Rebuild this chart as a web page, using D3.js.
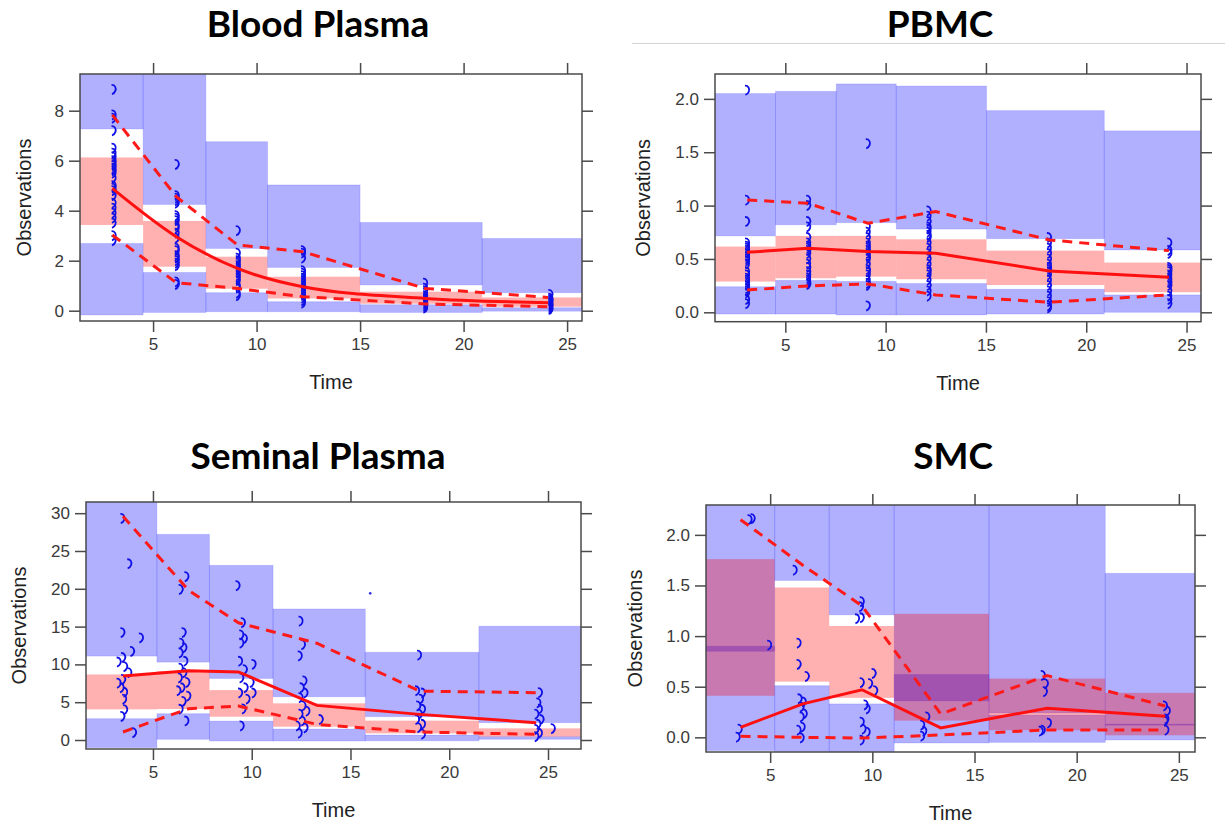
<!DOCTYPE html>
<html><head><meta charset="utf-8">
<script src="https://cdn.jsdelivr.net/npm/d3@7"></script>
<style>
body{margin:0;background:#fff}
svg text{font-family:"Liberation Sans",Arial,sans-serif}
.title{font-family:Lato,"Open Sans",sans-serif;font-weight:700}
</style>
</head><body><svg id="c" width="1225" height="827"></svg>
<script>
// ---------- shared ----------
const xTickVals = [5, 10, 15, 20, 25];

// ---------- Blood Plasma ----------
const bpBins   = [1.47, 4.52, 7.55, 10.53, 15.0, 20.9, 25.72];
const bpUpLo   = [7.27, 4.25, 2.49, 1.73, 1.03, 0.72];
const bpUpHi   = [9.9, 9.9, 6.76, 5.03, 3.53, 2.89];
const bpMedLo  = [3.43, 1.76, 0.88, 0.49, 0.28, 0.16];
const bpMedHi  = [6.13, 3.59, 2.16, 1.36, 0.76, 0.53];
const bpLowLo  = [-0.17, -0.07, -0.04, -0.04, -0.07, -0.02];
const bpLowHi  = [2.69, 1.53, 0.72, 0.36, 0.24, 0.12];
const bpT      = [3.03, 6.12, 9.08, 12.23, 18.15, 24.08];
const bpMed    = [4.89, 2.96, 1.69, 0.96, 0.49, 0.32];
const bp95     = [7.83, 4.56, 2.63, 2.36, 0.89, 0.53];
const bp05     = [3.03, 1.12, 0.89, 0.56, 0.27, 0.16];
const bpObsT   = [3.1, 6.15, 9.1, 12.25, 18.15, 24.2];
const bpObs    = [
  [8.85, 7.83, 7.7, 7.2, 6.5, 6.3, 6.15, 6.0, 5.9, 5.8, 5.7, 5.6, 5.5, 5.3, 5.0, 4.9, 4.8, 4.6, 4.3, 4.1, 3.9, 3.7, 3.5, 3.0, 2.8],
  [5.85, 4.6, 4.5, 4.4, 4.3, 3.8, 3.7, 3.6, 3.4, 3.3, 3.1, 2.9, 2.5, 2.4, 2.2, 2.1, 2.0, 1.9, 1.8, 1.15, 1.05],
  [3.2, 2.3, 2.1, 2.0, 1.9, 1.8, 1.7, 1.6, 1.5, 1.4, 1.3, 1.2, 1.0, 0.9, 0.7, 0.6],
  [2.4, 2.3, 2.1, 1.6, 1.5, 1.4, 1.3, 1.2, 1.1, 1.0, 0.9, 0.8, 0.7, 0.6, 0.5, 0.4, 0.3],
  [1.1, 0.9, 0.8, 0.7, 0.6, 0.5, 0.45, 0.4, 0.35, 0.3, 0.25, 0.2, 0.15, 0.1],
  [0.65, 0.5, 0.45, 0.4, 0.35, 0.3, 0.25, 0.2, 0.15, 0.1, 0.05]
];
const bpYTicks = [0, 2, 4, 6, 8];

// ---------- PBMC ----------
const pbBins   = [1.49, 4.51, 7.54, 10.53, 15.03, 20.9, 25.75];
const pbUpLo   = [0.716, 0.82, 0.84, 0.78, 0.69, 0.584];
const pbUpHi   = [2.05, 2.07, 2.14, 2.12, 1.89, 1.70];
const pbMedLo  = [0.288, 0.319, 0.334, 0.31, 0.256, 0.188];
const pbMedHi  = [0.616, 0.716, 0.716, 0.684, 0.578, 0.466];
const pbLowLo  = [-0.016, -0.016, -0.025, -0.025, -0.016, 0.0];
const pbLowHi  = [0.24, 0.30, 0.29, 0.27, 0.216, 0.163];
const pbT      = [3.1, 6.13, 9.12, 12.5, 18.16, 24.12];
const pbMed    = [0.563, 0.60, 0.569, 0.553, 0.388, 0.328];
const pb95     = [1.053, 1.022, 0.834, 0.944, 0.678, 0.578];
const pb05     = [0.209, 0.247, 0.266, 0.163, 0.094, 0.163];
const pbObsT   = [3.1, 6.15, 9.12, 12.15, 18.15, 24.15];
const pbObs    = [
  [2.08, 1.05, 0.85, 0.65, 0.62, 0.6, 0.58, 0.55, 0.52, 0.5, 0.48, 0.45, 0.38, 0.35, 0.32, 0.3, 0.28, 0.25, 0.22, 0.2, 0.18, 0.12, 0.08],
  [1.05, 1.0, 0.85, 0.8, 0.7, 0.65, 0.62, 0.6, 0.58, 0.55, 0.5, 0.45, 0.42, 0.38, 0.35, 0.32, 0.3, 0.28, 0.26],
  [1.58, 0.8, 0.75, 0.7, 0.65, 0.62, 0.6, 0.58, 0.55, 0.52, 0.5, 0.45, 0.4, 0.38, 0.35, 0.3, 0.27, 0.25, 0.06],
  [0.95, 0.9, 0.85, 0.8, 0.78, 0.75, 0.72, 0.7, 0.65, 0.6, 0.55, 0.5, 0.45, 0.4, 0.38, 0.35, 0.3, 0.25, 0.2, 0.15],
  [0.7, 0.65, 0.6, 0.55, 0.5, 0.45, 0.42, 0.4, 0.38, 0.35, 0.3, 0.25, 0.2, 0.15, 0.1, 0.06, 0.04],
  [0.65, 0.58, 0.55, 0.42, 0.4, 0.38, 0.35, 0.32, 0.3, 0.28, 0.25, 0.2, 0.15, 0.12, 0.08]
];
const pbYTicks = [0, 0.5, 1.0, 1.5, 2.0];

// ---------- Seminal Plasma ----------
const spBins   = [1.61, 5.2, 7.86, 11.08, 15.75, 21.5, 26.67];
const spUpLo   = [11.1, 10.3, 8.14, 5.72, 3.09, 2.29];
const spUpHi   = [32, 27.2, 23.1, 17.33, 11.6, 15.05];
const spMedLo  = [4.05, 4.1, 3.08, 1.76, 0.88, 0.44];
const spMedHi  = [8.67, 9.1, 6.6, 4.85, 2.56, 1.54];
const spLowLo  = [-1.0, 0.09, -0.13, -0.13, -0.1, 0.09];
const spLowHi  = [2.82, 3.48, 2.5, 1.45, 0.66, 0.44];
const spT      = [3.48, 6.8, 9.33, 13.3, 18.5, 24.4];
const spMed    = [8.45, 9.15, 9.0, 4.58, 3.39, 2.29];
const sp95     = [29.6, 19.8, 15.5, 12.8, 6.47, 6.25];
const sp05     = [1.06, 4.14, 4.49, 2.07, 1.06, 0.75];
const spObs    = [
  [3.46, 29.3], [3.81, 23.3], [3.46, 14.2], [4.4, 13.5], [3.95, 11.7], [3.5, 10.9], [3.27, 10.3], [3.6, 9.7],
  [3.81, 8.9], [3.5, 8.0], [3.27, 7.5], [3.42, 6.9], [3.6, 6.3], [3.55, 5.4], [3.6, 4.0], [3.46, 3.1], [4.05, 0.97],
  [6.7, 21.6], [6.41, 19.9], [6.56, 14.2], [6.45, 12.8], [6.6, 12.2], [6.41, 11.5], [6.65, 10.4], [6.41, 9.5],
  [6.6, 8.9], [6.37, 8.2], [6.75, 7.6], [6.5, 6.9], [6.3, 6.5], [6.8, 5.8], [6.56, 5.1], [6.41, 4.05], [6.7, 2.5],
  [9.29, 20.4], [9.56, 15.5], [9.48, 13.9], [9.66, 13.4], [9.48, 12.8], [9.42, 10.4], [10.1, 10.0], [9.66, 9.3],
  [9.48, 8.2], [10.0, 7.6], [9.7, 6.9], [9.42, 6.2], [10.1, 6.2], [9.8, 5.4], [9.6, 4.1], [9.5, 1.85],
  [12.48, 15.7], [12.6, 12.6], [12.44, 11.1], [12.68, 7.8], [12.54, 6.9], [12.73, 6.2], [12.48, 5.6], [12.63, 4.5],
  [12.83, 3.8], [12.48, 3.4], [12.6, 2.5], [13.5, 2.7], [12.34, 1.85], [12.73, 1.6], [12.44, 0.88],
  [18.48, 11.2], [18.38, 6.5], [18.68, 6.2], [18.58, 5.4], [18.44, 4.5], [18.68, 4.05], [18.52, 3.4], [18.38, 2.7],
  [18.68, 2.07], [18.48, 1.63], [18.68, 0.75],
  [24.6, 6.25], [24.52, 4.9], [24.6, 4.05], [24.42, 3.4], [24.68, 2.7], [24.52, 2.07], [25.25, 1.5], [24.42, 1.4],
  [24.6, 0.88], [24.42, 0.44]
];
const spStray  = [[16.0, 19.4]];
const spYTicks = [0, 5, 10, 15, 20, 25, 30];

// ---------- SMC ----------
const smBins   = [1.86, 5.22, 7.89, 11.07, 15.71, 21.4, 25.79];
const smUpLo   = [0.85, 1.55, 1.21, 0.36, 0.24, 0.12];
const smUpHi   = [2.4, 2.4, 2.4, 2.4, 2.4, 1.62];
const smMedLo  = [0.41, 0.55, 0.39, 0.165, 0.07, 0.02];
const smMedHi  = [1.76, 1.48, 1.10, 1.22, 0.58, 0.44];
const smLowLo  = [-0.13, -0.14, -0.15, -0.056, -0.05, -0.026];
const smLowHi  = [0.90, 0.51, 0.33, 0.62, 0.22, 0.13];
const smT      = [3.55, 6.6, 9.49, 13.35, 18.55, 24.33];
const smMed    = [0.099, 0.33, 0.47, 0.093, 0.288, 0.208];
const sm95     = [2.15, 1.70, 1.30, 0.23, 0.61, 0.31];
const sm05     = [0.01, 0.0, -0.007, 0.023, 0.073, 0.073];
const smObs    = [
  [4.0, 2.15], [4.15, 2.16], [4.96, 0.91], [3.52, 0.08], [3.42, 0.0],
  [6.21, 1.65], [6.4, 0.93], [6.4, 0.72], [6.8, 0.60], [6.45, 0.38], [6.65, 0.35], [6.55, 0.30], [6.7, 0.23],
  [6.55, 0.20], [6.6, 0.10], [6.4, 0.07], [6.55, -0.007],
  [9.49, 1.34], [9.45, 1.29], [9.26, 1.17], [9.49, 1.18], [10.07, 0.63], [9.49, 0.54], [9.9, 0.53], [10.15, 0.46],
  [9.68, 0.32], [9.78, 0.28], [9.49, 0.15], [9.58, 0.08], [9.78, 0.05], [9.49, -0.03],
  [12.7, 0.20], [12.45, 0.12], [12.55, 0.06], [12.45, 0.01],
  [18.35, 0.61], [18.5, 0.53], [18.45, 0.45], [18.65, 0.14], [18.35, 0.07], [18.25, 0.06],
  [24.33, 0.31], [24.47, 0.26], [24.4, 0.18], [24.36, 0.16], [24.4, 0.07]
];
const smYTicks = [0, 0.5, 1.0, 1.5, 2.0];

// ---------- panel layout ----------
function colObs(times, cols) { const out = []; cols.forEach((c, i) => c.forEach(v => out.push([times[i], v]))); return out; }

const panels = [
  { title: "Blood Plasma", tx: 318, ty: 37, l: 80, r: 582, t: 74, b: 321, xDom: [1.47, 25.72], yDom: [-0.412, 9.468],
    ylx: 24, yTicks: bpYTicks, fmt: d3.format("d"), bins: bpBins, upLo: bpUpLo, upHi: bpUpHi, medLo: bpMedLo, medHi: bpMedHi,
    lowLo: bpLowLo, lowHi: bpLowHi, T: bpT, med: bpMed, p95: bp95, p05: bp05, obs: colObs(bpObsT, bpObs), stray: [] },
  { title: "PBMC", tx: 940, ty: 37, l: 715, r: 1201, t: 74, b: 321.7, xDom: [1.495, 25.72], yDom: [-0.088, 2.233],
    ylx: 643, yTicks: pbYTicks, fmt: d3.format(".1f"), bins: pbBins, upLo: pbUpLo, upHi: pbUpHi, medLo: pbMedLo, medHi: pbMedHi,
    lowLo: pbLowLo, lowHi: pbLowHi, T: pbT, med: pbMed, p95: pb95, p05: pb05, obs: colObs(pbObsT, pbObs), stray: [] },
  { title: "Seminal Plasma", tx: 318, ty: 469, l: 86, r: 581, t: 502, b: 749, xDom: [1.61, 26.67], yDom: [-1.19, 31.48],
    ylx: 19, yTicks: spYTicks, fmt: d3.format("d"), bins: spBins, upLo: spUpLo, upHi: spUpHi, medLo: spMedLo, medHi: spMedHi,
    lowLo: spLowLo, lowHi: spLowHi, T: spT, med: spMed, p95: sp95, p05: sp05, obs: spObs, stray: spStray },
  { title: "SMC", tx: 953, ty: 469, l: 706, r: 1195, t: 505, b: 752, xDom: [1.86, 25.79], yDom: [-0.145, 2.295],
    ylx: 635, yTicks: smYTicks, fmt: d3.format(".1f"), bins: smBins, upLo: smUpLo, upHi: smUpHi, medLo: smMedLo, medHi: smMedHi,
    lowLo: smLowLo, lowHi: smLowHi, T: smT, med: smMed, p95: sm95, p05: sm05, obs: smObs, stray: [] }
];

const svg = d3.select("#c");
svg.append("line").attr("x1", 632).attr("x2", 1225).attr("y1", 43.5).attr("y2", 43.5)
  .attr("stroke", "#d4d4d4").attr("stroke-width", 1);

const BLUE = "rgba(0,0,255,0.31)", PINK = "rgba(255,0,0,0.31)";
const symPath = "M-2.2,-4.6 C1.2,-4.8 2.6,-1.6 1.7,1.2 C1.1,3 -0.2,4.2 -1.8,4.6";

panels.forEach((p, pi) => {
  const x = d3.scaleLinear().domain(p.xDom).range([p.l, p.r]);
  const y = d3.scaleLinear().domain(p.yDom).range([p.b, p.t]);
  const g = svg.append("g");
  const cid = "clip" + pi;
  svg.append("clipPath").attr("id", cid).append("rect")
    .attr("x", p.l).attr("y", p.t).attr("width", p.r - p.l).attr("height", p.b - p.t);
  const pg = g.append("g").attr("clip-path", `url(#${cid})`);
  const idx = d3.range(p.bins.length - 1);

  function boxes(lo, hi, fill, stroke) {
    pg.append("g").selectAll("rect").data(idx).join("rect")
      .attr("x", i => x(p.bins[i])).attr("width", i => x(p.bins[i + 1]) - x(p.bins[i]))
      .attr("y", i => y(hi[i])).attr("height", i => y(lo[i]) - y(hi[i]))
      .attr("fill", fill).attr("stroke", stroke).attr("stroke-width", 1);
  }
  boxes(p.upLo, p.upHi, BLUE, "rgba(0,0,255,0.12)");
  boxes(p.lowLo, p.lowHi, BLUE, "rgba(0,0,255,0.12)");
  boxes(p.medLo, p.medHi, PINK, "none");

  // observations
  pg.append("g").selectAll("path").data(p.obs).join("path")
    .attr("transform", d => `translate(${x(d[0])},${y(d[1])})`)
    .attr("d", symPath).attr("fill", "none").attr("stroke", "#1010e6").attr("stroke-width", 1.8);
  pg.append("g").selectAll("circle").data(p.stray).join("circle")
    .attr("cx", d => x(d[0])).attr("cy", d => y(d[1])).attr("r", 1.3).attr("fill", "#3030e0");

  // lines
  const line = d3.line().x((d, i) => x(p.T[i])).y(d => y(d));
  pg.append("path").attr("d", line(p.p95)).attr("fill", "none").attr("stroke", "#ff1a1a")
    .attr("stroke-width", 3).attr("stroke-dasharray", "10,7");
  pg.append("path").attr("d", line(p.p05)).attr("fill", "none").attr("stroke", "#ff1a1a")
    .attr("stroke-width", 3).attr("stroke-dasharray", "10,7");
  const medLine = pi === 0 ? d3.line().curve(d3.curveMonotoneX).x((d, i) => x(p.T[i])).y(d => y(d)) : line;
  pg.append("path").attr("d", medLine(p.med)).attr("fill", "none").attr("stroke", "#ff1010")
    .attr("stroke-width", 3);

  // frame
  g.append("rect").attr("x", p.l).attr("y", p.t).attr("width", p.r - p.l).attr("height", p.b - p.t)
    .attr("fill", "none").attr("stroke", "#4a4a4a").attr("stroke-width", 1.5);

  // axes
  const style = sel => {
    sel.select(".domain").remove();
    sel.selectAll(".tick line").attr("stroke", "#4a4a4a").attr("stroke-width", 1.5);
    sel.selectAll(".tick text").attr("fill", "#3a3a3a").style("font-size", "17px")
      .style("font-family", '"Liberation Sans", Arial, sans-serif');
  };
  g.append("g").attr("transform", `translate(0,${p.b})`)
    .call(d3.axisBottom(x).tickValues(xTickVals).tickSize(11).tickPadding(6).tickFormat(d3.format("d"))).call(style);
  g.append("g").attr("transform", `translate(0,${p.t})`)
    .call(d3.axisTop(x).tickValues(xTickVals).tickSize(11).tickFormat("")).call(style);
  g.append("g").attr("transform", `translate(${p.l},0)`)
    .call(d3.axisLeft(y).tickValues(p.yTicks).tickSize(11).tickPadding(5).tickFormat(p.fmt)).call(style);
  g.append("g").attr("transform", `translate(${p.r},0)`)
    .call(d3.axisRight(y).tickValues(p.yTicks).tickSize(11).tickFormat("")).call(style);

  // labels
  g.append("text").attr("x", (p.l + p.r) / 2).attr("y", p.b + 68).attr("text-anchor", "middle")
    .attr("fill", "#222").style("font-size", "20px").text("Time");
  g.append("text").attr("transform", `translate(${p.ylx},${(p.t + p.b) / 2}) rotate(-90)`)
    .attr("text-anchor", "middle").attr("dy", "0.35em").attr("fill", "#222").style("font-size", "20px").text("Observations");
  g.append("text").attr("class", "title").attr("x", p.tx).attr("y", p.ty).attr("text-anchor", "middle")
    .attr("fill", "#000").style("font-size", "37px").text(p.title);
});
</script>
</body></html>
